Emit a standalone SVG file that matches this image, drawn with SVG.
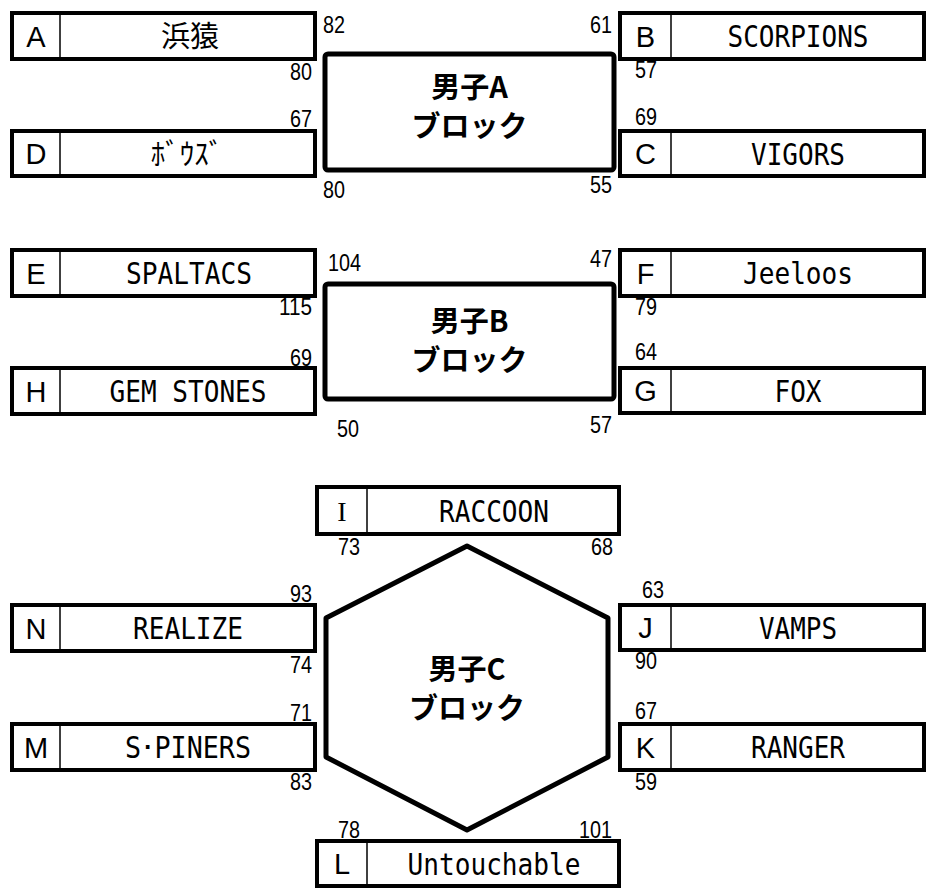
<svg xmlns="http://www.w3.org/2000/svg" width="926" height="888" viewBox="0 0 926 888">
<style>
.box{fill:#fff;stroke:#000;stroke-width:4}
.div{stroke:#000;stroke-width:1.5}
.blk{fill:#fff;stroke:#000;stroke-width:5;stroke-linejoin:round}
.let{font-family:"Liberation Sans",Arial,sans-serif;font-size:29px;text-anchor:middle;fill:#000}
.letI{font-family:"Liberation Serif",serif;font-size:28px;text-anchor:middle;fill:#000}
.nm{font-family:"DejaVu Sans Mono","Liberation Mono",monospace;font-size:30px;text-anchor:middle;fill:#000}
.jp{font-family:"Noto Sans CJK JP",sans-serif;font-size:29px;text-anchor:middle;fill:#000}
.ttl{font-family:"Noto Sans CJK JP",sans-serif;font-size:29px;font-weight:bold;text-anchor:middle;fill:#000}
.sc{font-family:"Liberation Sans",Arial,sans-serif;font-size:24px;fill:#000}
.e{text-anchor:end}
.s{text-anchor:start}
</style>
<rect width="926" height="888" fill="#fff"/>

<!-- Block A -->
<g id="blockA">
<rect class="blk" x="325" y="54" width="289" height="116" rx="3"/>
<text class="ttl" x="469.5" y="98">男子A</text>
<text class="ttl" x="469.5" y="137">ブロック</text>
</g>
<g id="teamA"><rect class="box" x="12" y="13" width="303" height="46"/><line class="div" x1="60" y1="13" x2="60" y2="59"/><text class="let" x="36" y="46.5">A</text><text class="jp" x="190" y="46.5" font-size="30">浜猿</text></g>
<g id="teamD"><rect class="box" x="12" y="131" width="303" height="45"/><line class="div" x1="60" y1="131" x2="60" y2="176"/><text class="let" x="36" y="164">D</text><text class="jp" x="187" y="165" font-size="31">ﾎﾞｳｽﾞ</text></g>
<g id="teamB"><rect class="box" x="620" y="13" width="304" height="46"/><line class="div" x1="671" y1="13" x2="671" y2="59"/><text class="let" x="645.5" y="46.5">B</text><text class="nm" x="798" y="47" textLength="141" lengthAdjust="spacingAndGlyphs">SCORPIONS</text></g>
<g id="teamC"><rect class="box" x="620" y="131" width="304" height="45"/><line class="div" x1="671" y1="131" x2="671" y2="176"/><text class="let" x="645.5" y="164">C</text><text class="nm" x="798" y="164.5" textLength="94" lengthAdjust="spacingAndGlyphs">VIGORS</text></g>

<!-- Block B -->
<g id="blockB">
<rect class="blk" x="325" y="284" width="289" height="115" rx="3"/>
<text class="ttl" x="469.5" y="332">男子B</text>
<text class="ttl" x="469.5" y="371">ブロック</text>
</g>
<g id="teamE"><rect class="box" x="12" y="250" width="303" height="46"/><line class="div" x1="60" y1="250" x2="60" y2="296"/><text class="let" x="36" y="283.5">E</text><text class="nm" x="189" y="284" textLength="126" lengthAdjust="spacingAndGlyphs">SPALTACS</text></g>
<g id="teamH"><rect class="box" x="12" y="368" width="303" height="46"/><line class="div" x1="60" y1="368" x2="60" y2="414"/><text class="let" x="36" y="401.5">H</text><text class="nm" x="188" y="402" textLength="157" lengthAdjust="spacingAndGlyphs">GEM STONES</text></g>
<g id="teamF"><rect class="box" x="620" y="250" width="304" height="46"/><line class="div" x1="671" y1="250" x2="671" y2="296"/><text class="let" x="645.5" y="283.5">F</text><text class="nm" x="798" y="284" textLength="110" lengthAdjust="spacingAndGlyphs">Jeeloos</text></g>
<g id="teamG"><rect class="box" x="620" y="368" width="304" height="45"/><line class="div" x1="671" y1="368" x2="671" y2="413"/><text class="let" x="645.5" y="401">G</text><text class="nm" x="798" y="401.5" textLength="47" lengthAdjust="spacingAndGlyphs">FOX</text></g>

<!-- Block C -->
<g id="blockC">
<polygon class="blk" points="467,546 608,618 608,757 467,830 326,757 326,618"/>
<text class="ttl" x="467" y="680">男子C</text>
<text class="ttl" x="467" y="719">ブロック</text>
</g>
<g id="teamI"><rect class="box" x="317" y="487" width="302" height="47"/><line class="div" x1="367" y1="487" x2="367" y2="534"/><text class="letI" x="342" y="520.5">I</text><text class="nm" x="494" y="521.5" textLength="110" lengthAdjust="spacingAndGlyphs">RACCOON</text></g>
<g id="teamN"><rect class="box" x="12" y="605" width="303" height="46"/><line class="div" x1="60" y1="605" x2="60" y2="651"/><text class="let" x="36" y="638.5">N</text><text class="nm" x="188" y="639" textLength="110" lengthAdjust="spacingAndGlyphs">REALIZE</text></g>
<g id="teamM"><rect class="box" x="12" y="724" width="303" height="46"/><line class="div" x1="60" y1="724" x2="60" y2="770"/><text class="let" x="36" y="757.5">M</text><text class="nm" x="188" y="758" textLength="126" lengthAdjust="spacingAndGlyphs">S･PINERS</text></g>
<g id="teamJ"><rect class="box" x="620" y="605" width="304" height="45"/><line class="div" x1="671" y1="605" x2="671" y2="650"/><text class="let" x="645.5" y="638">J</text><text class="nm" x="798" y="638.5" textLength="78" lengthAdjust="spacingAndGlyphs">VAMPS</text></g>
<g id="teamK"><rect class="box" x="620" y="724" width="304" height="46"/><line class="div" x1="671" y1="724" x2="671" y2="770"/><text class="let" x="645.5" y="757.5">K</text><text class="nm" x="798" y="758" textLength="94" lengthAdjust="spacingAndGlyphs">RANGER</text></g>
<g id="teamL"><rect class="box" x="317" y="841" width="302" height="45"/><line class="div" x1="367" y1="841" x2="367" y2="886"/><text class="let" x="342" y="874">L</text><text class="nm" x="494" y="874.5" textLength="173" lengthAdjust="spacingAndGlyphs">Untouchable</text></g>

<!-- Scores -->
<g id="scores">
<text class="sc s" x="323" y="33" textLength="22" lengthAdjust="spacingAndGlyphs">82</text>
<text class="sc e" x="612" y="33" textLength="22" lengthAdjust="spacingAndGlyphs">61</text>
<text class="sc e" x="312" y="80" textLength="22" lengthAdjust="spacingAndGlyphs">80</text>
<text class="sc e" x="312" y="127" textLength="22" lengthAdjust="spacingAndGlyphs">67</text>
<text class="sc s" x="635" y="78" textLength="22" lengthAdjust="spacingAndGlyphs">57</text>
<text class="sc s" x="635" y="125" textLength="22" lengthAdjust="spacingAndGlyphs">69</text>
<text class="sc s" x="323" y="198" textLength="22" lengthAdjust="spacingAndGlyphs">80</text>
<text class="sc e" x="612" y="193" textLength="22" lengthAdjust="spacingAndGlyphs">55</text>

<text class="sc s" x="328" y="271" textLength="33" lengthAdjust="spacingAndGlyphs">104</text>
<text class="sc e" x="612" y="267" textLength="22" lengthAdjust="spacingAndGlyphs">47</text>
<text class="sc e" x="312" y="315" textLength="33" lengthAdjust="spacingAndGlyphs">115</text>
<text class="sc e" x="312" y="366" textLength="22" lengthAdjust="spacingAndGlyphs">69</text>
<text class="sc s" x="635" y="315" textLength="22" lengthAdjust="spacingAndGlyphs">79</text>
<text class="sc s" x="635" y="360" textLength="22" lengthAdjust="spacingAndGlyphs">64</text>
<text class="sc s" x="337" y="437" textLength="22" lengthAdjust="spacingAndGlyphs">50</text>
<text class="sc e" x="612" y="433" textLength="22" lengthAdjust="spacingAndGlyphs">57</text>

<text class="sc s" x="338" y="555" textLength="22" lengthAdjust="spacingAndGlyphs">73</text>
<text class="sc e" x="613" y="555" textLength="22" lengthAdjust="spacingAndGlyphs">68</text>
<text class="sc e" x="312" y="602" textLength="22" lengthAdjust="spacingAndGlyphs">93</text>
<text class="sc s" x="642" y="598" textLength="22" lengthAdjust="spacingAndGlyphs">63</text>
<text class="sc e" x="312" y="673" textLength="22" lengthAdjust="spacingAndGlyphs">74</text>
<text class="sc s" x="635" y="669" textLength="22" lengthAdjust="spacingAndGlyphs">90</text>
<text class="sc e" x="312" y="721" textLength="22" lengthAdjust="spacingAndGlyphs">71</text>
<text class="sc s" x="635" y="719" textLength="22" lengthAdjust="spacingAndGlyphs">67</text>
<text class="sc e" x="312" y="790" textLength="22" lengthAdjust="spacingAndGlyphs">83</text>
<text class="sc s" x="635" y="790" textLength="22" lengthAdjust="spacingAndGlyphs">59</text>
<text class="sc s" x="338" y="838" textLength="22" lengthAdjust="spacingAndGlyphs">78</text>
<text class="sc e" x="612" y="838" textLength="33" lengthAdjust="spacingAndGlyphs">101</text>
</g>
</svg>
